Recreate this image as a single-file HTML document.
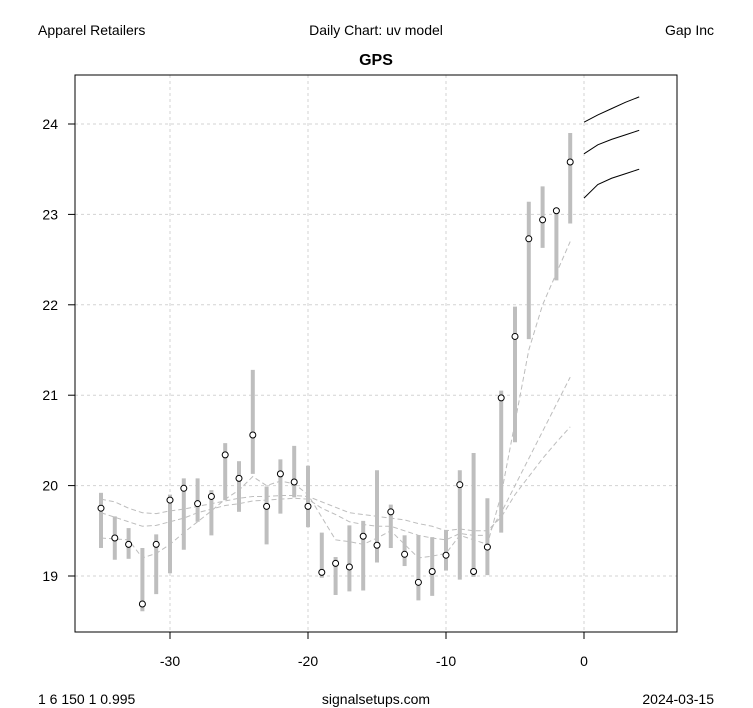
<!DOCTYPE html>
<html><head><meta charset="utf-8"><style>
body{margin:0;background:#fff;}
svg{display:block;font-family:"Liberation Sans",Arial,sans-serif;}
</style></head><body>
<svg id="chart" width="753" height="708">
<text x="38" y="35" font-size="14">Apparel Retailers</text>
<text x="376" y="35" font-size="14" text-anchor="middle">Daily Chart: uv model</text>
<text x="714" y="35" font-size="14" text-anchor="end">Gap Inc</text>
<text x="376" y="65" font-size="16" font-weight="bold" text-anchor="middle">GPS</text>
<text x="38" y="704" font-size="14">1 6 150 1 0.995</text>
<text x="376" y="704" font-size="14" text-anchor="middle">signalsetups.com</text>
<text x="714" y="704" font-size="14" text-anchor="end">2024-03-15</text>
<g id="grid"></g><g id="ma"></g><g id="bars"></g><g id="fc"></g><g id="axes"></g>
<rect x="75" y="75" width="602" height="557" fill="none" stroke="#000"/>
</svg>
<script>
const days=[-35,-34,-33,-32,-31,-30,-29,-28,-27,-26,-25,-24,-23,-22,-21,-20,-19,-18,-17,-16,-15,-14,-13,-12,-11,-10,-9,-8,-7,-6,-5,-4,-3,-2,-1];
const closeVals=[19.75,19.42,19.35,18.69,19.35,19.84,19.97,19.80,19.88,20.34,20.08,20.56,19.77,20.13,20.04,19.77,19.04,19.14,19.10,19.44,19.34,19.71,19.24,18.93,19.05,19.23,20.01,19.05,19.32,20.97,21.65,22.73,22.94,23.04,23.58];
const highVals=[19.92,19.66,19.53,19.31,19.46,19.90,20.08,20.08,19.95,20.47,20.27,21.28,19.99,20.29,20.44,20.22,19.48,19.21,19.56,19.61,20.17,19.79,19.45,19.45,19.43,19.51,20.17,20.36,19.86,21.05,21.98,23.14,23.31,23.06,23.90];
const lowVals=[19.31,19.18,19.19,18.61,18.80,19.03,19.29,19.60,19.45,19.84,19.71,20.13,19.35,19.69,19.87,19.54,18.98,18.79,18.83,18.84,19.15,19.31,19.11,18.73,18.78,19.06,18.96,18.99,19.01,19.48,20.48,21.62,22.63,22.27,22.90];
const maSlow=[19.85,19.82,19.75,19.70,19.69,19.72,19.74,19.77,19.80,19.83,19.86,19.88,19.88,19.89,19.89,19.88,19.82,19.76,19.70,19.68,19.66,19.64,19.62,19.58,19.55,19.50,19.52,19.50,19.50,19.65,19.90,20.10,20.30,20.48,20.65];
const maMid=[19.70,19.65,19.60,19.55,19.56,19.60,19.64,19.70,19.74,19.78,19.80,19.83,19.84,19.85,19.86,19.85,19.75,19.68,19.60,19.57,19.55,19.55,19.50,19.45,19.42,19.40,19.47,19.45,19.45,19.70,20.00,20.30,20.60,20.90,21.20];
const maFast=[19.42,19.41,19.40,19.20,19.25,19.35,19.48,19.60,19.72,19.85,19.95,20.10,20.00,20.05,20.02,19.90,19.65,19.40,19.38,19.35,19.42,19.50,19.35,19.20,19.22,19.25,19.45,19.40,19.35,19.90,20.70,21.50,22.00,22.35,22.70];
const fcDays=[0,1,2,3,4];
const fcUpper=[24.02,24.10,24.17,24.24,24.30];
const fcMid=[23.67,23.77,23.83,23.88,23.93];
const fcLower=[23.18,23.33,23.40,23.45,23.50];
const xTicks=[-30,-20,-10,0];
const yTicks=[19,20,21,22,23,24];
const NS='http://www.w3.org/2000/svg';
const X=d=>584+d*13.8;
const Y=v=>124+(24-v)*90.4;
function mk(tag,attrs,parent){const e=document.createElementNS(NS,tag);for(const k in attrs)e.setAttribute(k,attrs[k]);document.getElementById(parent).appendChild(e);return e;}
xTicks.forEach(t=>{
 const g=mk('line',{x1:X(t),x2:X(t),y1:75,y2:632,stroke:'#d3d3d3','stroke-dasharray':'3,3'},'grid');
 
 
 const tk=mk('line',{x1:X(t),x2:X(t),y1:632,y2:639,stroke:'#000'},'axes');
 
 
 const tx=mk('text',{x:X(t),y:666,'font-size':14,'text-anchor':'middle'},'axes');
 tx.textContent=t;
 
 
});
yTicks.forEach(t=>{
 const g=mk('line',{x1:75,x2:677,y1:Y(t),y2:Y(t),stroke:'#d3d3d3','stroke-dasharray':'3,3'},'grid');
 
 
 const tk=mk('line',{x1:68,x2:75,y1:Y(t),y2:Y(t),stroke:'#000'},'axes');
 
 
 const tx=mk('text',{x:58,y:Y(t)+5,'font-size':14,'text-anchor':'end'},'axes');
 tx.textContent=t;
 
 
});
[[maSlow,'ma-slow'],[maMid,'ma-mid'],[maFast,'ma-fast']].forEach(([arr,n])=>{
 const p=mk('polyline',{points:arr.map((v,i)=>X(days[i])+','+Y(v)).join(' '),fill:'none',stroke:'#bdbdbd','stroke-dasharray':'5,3','stroke-width':1},'ma');
 
 
});
days.forEach((d,i)=>{
 const b=mk('line',{x1:X(d),x2:X(d),y1:Y(highVals[i]),y2:Y(lowVals[i]),stroke:'#bebebe','stroke-width':4},'bars');
 
 
 const c=mk('circle',{cx:X(d),cy:Y(closeVals[i]),r:3,fill:'#fff',stroke:'#000','stroke-width':1},'bars');
 
 
});
[[fcUpper,'forecast-upper'],[fcMid,'forecast-mid'],[fcLower,'forecast-lower']].forEach(([arr,n])=>{
 const p=mk('polyline',{points:arr.map((v,i)=>X(fcDays[i])+','+Y(v)).join(' '),fill:'none',stroke:'#000','stroke-width':1},'fc');
 
 
});
</script>
</body></html>
